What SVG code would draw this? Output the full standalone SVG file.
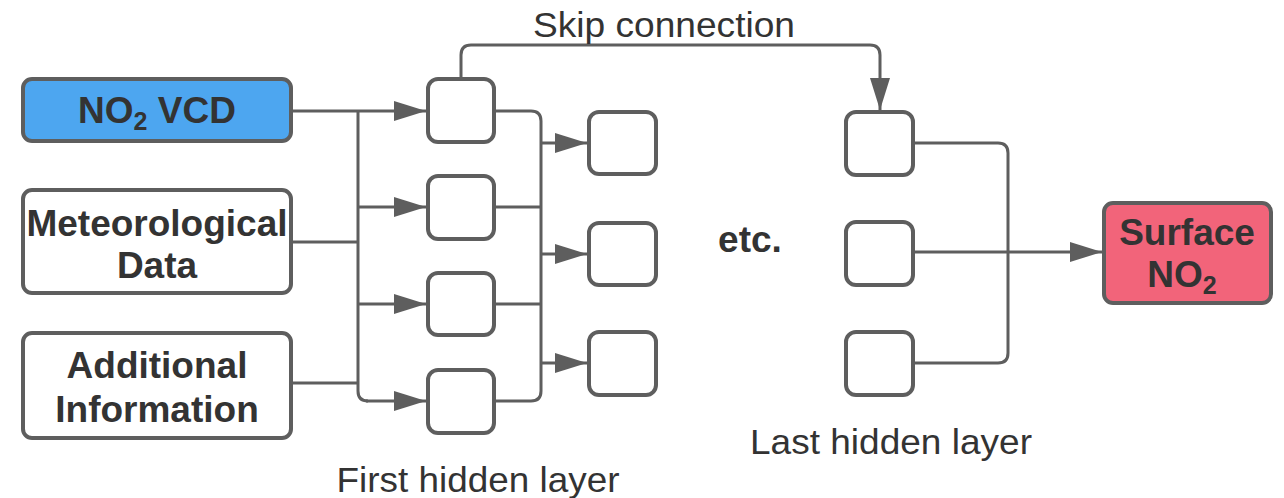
<svg xmlns="http://www.w3.org/2000/svg" width="1284" height="498" viewBox="0 0 1284 498">
<defs>
<style>
.box{fill:#ffffff;stroke:#5e5e5e;stroke-width:4}
.node{fill:#ffffff;stroke:#5e5e5e;stroke-width:4}
.wire{fill:none;stroke:#5e5e5e;stroke-width:3;stroke-linejoin:round}
.arr{fill:none;stroke:#5e5e5e;stroke-width:3;marker-end:url(#ah)}
.bt{font-family:"Liberation Sans",Arial,sans-serif;font-weight:bold;font-size:37px;fill:#333333;text-anchor:middle}
.lt{font-family:"Liberation Sans",Arial,sans-serif;font-size:35px;fill:#333333;text-anchor:middle}
</style>
<marker id="ah" markerUnits="userSpaceOnUse" markerWidth="32" markerHeight="20" refX="32" refY="10" orient="auto">
<path d="M0,0 L32,10 L0,20 z" fill="#5e5e5e"/>
</marker>
</defs>
<rect width="1284" height="498" fill="#ffffff"/>

<g id="connectors">
<!-- inputs to first hidden layer -->
<path class="arr" d="M293,111 H426"/>
<path class="wire" d="M293,242 H358"/>
<path class="wire" d="M293,383 H358"/>
<path class="wire" d="M358,111 V391 Q358,401 368,401"/>
<path class="arr" d="M366,401 H426"/>
<path class="arr" d="M358,207 H426"/>
<path class="arr" d="M358,304 H426"/>
<!-- first hidden layer to second -->
<path class="wire" d="M496,111 H531 Q541,111 541,121 V391 Q541,401 531,401 H496"/>
<path class="wire" d="M496,207 H541"/>
<path class="wire" d="M496,304 H541"/>
<path class="arr" d="M541,143 H587"/>
<path class="arr" d="M541,254 H587"/>
<path class="arr" d="M541,363 H587"/>
<!-- skip connection -->
<path class="arr" d="M461,77 V55 Q461,45 471,45 H870 Q880,45 880,55 V110"/>
<!-- last hidden layer to output -->
<path class="wire" d="M915,143 H998 Q1008,143 1008,153 V353 Q1008,363 998,363 H915"/>
<path class="wire" d="M915,252 H1008"/>
<path class="arr" d="M1008,252 H1102"/>
</g>

<g id="in-no2">
<rect x="23" y="79" width="268" height="62" rx="9" fill="#4da6f0" stroke="#5e5e5e" stroke-width="4"/>
<text class="bt" x="157" y="123">NO<tspan font-size="25" dy="7">2</tspan><tspan dy="-7"> VCD</tspan></text>
</g>
<g id="in-met">
<rect class="box" x="23" y="190" width="268" height="103" rx="9"/>
<text class="bt" x="157" y="236">Meteorological</text>
<text class="bt" x="157" y="278">Data</text>
</g>
<g id="in-add">
<rect class="box" x="23" y="333" width="268" height="105" rx="9"/>
<text class="bt" x="157" y="378">Additional</text>
<text class="bt" x="157" y="422">Information</text>
</g>

<g id="h1-1"><rect class="node" x="428" y="79" width="66" height="63" rx="10"/></g>
<g id="h1-2"><rect class="node" x="428" y="176" width="66" height="63" rx="10"/></g>
<g id="h1-3"><rect class="node" x="428" y="273" width="66" height="62" rx="10"/></g>
<g id="h1-4"><rect class="node" x="428" y="370" width="66" height="63" rx="10"/></g>

<g id="h2-1"><rect class="node" x="589" y="112" width="67" height="62" rx="10"/></g>
<g id="h2-2"><rect class="node" x="589" y="223" width="67" height="62" rx="10"/></g>
<g id="h2-3"><rect class="node" x="589" y="332" width="67" height="63" rx="10"/></g>

<g id="hl-1"><rect class="node" x="846" y="112" width="67" height="63" rx="10"/></g>
<g id="hl-2"><rect class="node" x="846" y="222" width="67" height="63" rx="10"/></g>
<g id="hl-3"><rect class="node" x="846" y="332" width="67" height="63" rx="10"/></g>

<g id="out">
<rect x="1104" y="203" width="167" height="100" rx="9" fill="#f2647a" stroke="#5e5e5e" stroke-width="4"/>
<text class="bt" x="1187" y="245">Surface</text>
<text class="bt" x="1182" y="287">NO<tspan font-size="25" dy="7">2</tspan></text>
</g>

<g id="labels">
<text class="lt" x="664" y="37" textLength="262" lengthAdjust="spacingAndGlyphs">Skip connection</text>
<text class="bt" x="750" y="252">etc.</text>
<text class="lt" x="478" y="492" textLength="283" lengthAdjust="spacingAndGlyphs">First hidden layer</text>
<text class="lt" x="891" y="454" textLength="282" lengthAdjust="spacingAndGlyphs">Last hidden layer</text>
</g>
</svg>
